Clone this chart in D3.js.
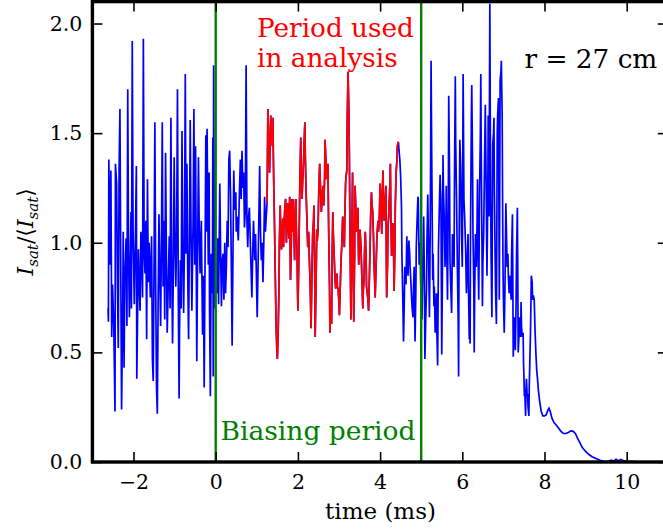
<!DOCTYPE html>
<html><head><meta charset="utf-8">
<script src="https://cdn.jsdelivr.net/npm/d3@7"></script>
<style>body{margin:0;background:#fff}svg{display:block}text{font-family:"DejaVu Serif",serif}</style>
</head><body><svg id="chart" width="663" height="531"></svg>
<script>
// ---- data (time in ms, I_sat normalised) ----
const preBiasTime = [
-2.62,-2.61,-2.60,-2.57,-2.55,-2.53,-2.51,-2.48,-2.45,-2.44,
-2.41,-2.39,-2.37,-2.35,-2.33,-2.31,-2.29,-2.26,-2.25,-2.23,
-2.21,-2.18,-2.16,-2.14,-2.12,-2.10,-2.08,-2.06,-2.05,-2.03,
-2.01,-1.98,-1.96,-1.93,-1.92,-1.88,-1.86,-1.84,-1.82,-1.80,
-1.78,-1.76,-1.74,-1.72,-1.70,-1.68,-1.66,-1.64,-1.62,-1.59,
-1.56,-1.54,-1.52,-1.50,-1.48,-1.46,-1.44,-1.42,-1.40,-1.38,
-1.36,-1.34,-1.32,-1.30,-1.28,-1.26,-1.24,-1.22,-1.20,-1.18,
-1.15,-1.13,-1.11,-1.09,-1.07,-1.05,-1.03,-1.01,-0.99,-0.97,
-0.95,-0.93,-0.91,-0.89,-0.88,-0.86,-0.84,-0.82,-0.80,-0.78,
-0.76,-0.74,-0.72,-0.70,-0.68,-0.66,-0.64,-0.62,-0.60,-0.58,
-0.55,-0.53,-0.51,-0.49,-0.47,-0.46,-0.44,-0.42,-0.40,-0.38,
-0.35,-0.32,-0.30,-0.28,-0.26,-0.24,-0.23,-0.21,-0.20,-0.18,
-0.16,-0.15,-0.13,-0.11,-0.08,-0.07,-0.06,-0.05,-0.03,-0.02];
const preBiasValue = [
0.70,0.64,1.38,0.90,1.33,0.57,0.81,0.62,0.23,1.36,
1.27,0.80,0.52,1.34,1.61,0.90,0.24,0.75,1.05,0.43,
0.85,1.02,0.62,1.70,0.95,0.66,0.90,1.14,0.70,1.92,
1.05,0.72,0.95,1.35,0.38,0.97,0.80,0.69,1.05,0.94,
0.75,1.93,0.95,0.86,1.10,0.56,1.29,0.82,1.00,0.75,
1.03,0.47,0.37,0.90,1.55,0.80,0.34,0.22,0.75,1.13,
0.85,0.62,1.00,1.55,0.80,1.10,0.65,1.41,0.95,0.59,
0.85,1.03,0.70,1.57,0.90,0.54,0.88,1.39,1.00,0.80,
1.05,1.70,0.75,0.29,0.60,0.92,0.70,1.51,0.95,0.68,
1.00,1.77,0.95,1.36,0.85,0.56,1.00,1.56,1.05,0.69,
1.10,1.61,0.90,1.44,0.80,0.46,0.95,1.39,1.05,0.86,
1.10,0.58,0.85,0.34,0.90,1.49,1.05,1.52,1.29,0.90,
1.32,0.70,0.30,0.95,0.77,1.48,0.39,1.81,0.70,1.05];

const earlyBiasTime = [
0.00,0.03,0.05,0.07,0.10,0.12,0.14,0.16,0.18,0.20,
0.22,0.24,0.26,0.28,0.30,0.32,0.34,0.36,0.38,0.40,
0.42,0.44,0.46,0.49,0.50,0.52,0.55,0.58,0.60,0.62,
0.64,0.66,0.68,0.70,0.72,0.74,0.76,0.78,0.80,0.82,
0.85,0.88,0.90,0.92,0.95,0.97,0.99,1.01,1.04,1.07,
1.09,1.11,1.13,1.15,1.17,1.19,1.21,1.23,1.25];
const earlyBiasValue = [
0.85,0.77,1.02,0.72,1.27,0.95,0.71,0.92,0.95,0.74,
1.00,0.77,0.89,1.10,0.98,1.38,1.42,1.23,0.90,0.53,
0.95,1.33,1.15,1.23,1.05,1.12,1.01,1.25,1.38,1.20,
1.42,1.25,1.32,1.07,1.15,1.81,1.10,0.98,1.12,1.16,
0.95,0.75,0.95,1.10,0.92,1.04,0.85,0.66,1.00,1.35,
1.05,0.92,1.00,0.82,1.00,1.21,1.05,1.12,1.18];

const analysisTime = [
1.27,1.29,1.31,1.34,1.36,1.38,1.39,1.41,1.43,1.45,
1.47,1.49,1.50,1.52,1.54,1.55,1.57,1.58,1.60,1.62,
1.63,1.65,1.66,1.68,1.70,1.72,1.73,1.75,1.76,1.78,
1.80,1.81,1.82,1.84,1.85,1.87,1.89,1.90,1.92,1.93,
1.95,1.96,1.98,1.99,2.00,2.02,2.04,2.05,2.07,2.08,
2.10,2.12,2.14,2.15,2.17,2.18,2.20,2.22,2.24,2.26,
2.28,2.30,2.32,2.34,2.36,2.38,2.39,2.41,2.42,2.44,
2.46,2.47,2.49,2.51,2.53,2.55,2.57,2.59,2.61,2.62,
2.63,2.65,2.66,2.68,2.69,2.71,2.73,2.74,2.75,2.77,
2.78,2.80,2.82,2.83,2.85,2.86,2.88,2.90,2.92,2.93,
2.95,2.96,2.98,3.00,3.01,3.03,3.05,3.07,3.09,3.11,
3.13,3.14,3.16,3.17,3.19,3.20,3.22,3.24,3.25,3.27,
3.29,3.31,3.33,3.34,3.36,3.38,3.39,3.41,3.42,3.44,
3.46,3.47,3.48,3.50,3.51,3.53,3.54,3.56,3.58,3.59,
3.61,3.62,3.64,3.66,3.67,3.70,3.72,3.74,3.76,3.77,
3.79,3.80,3.82,3.84,3.85,3.87,3.88,3.90,3.92,3.93,
3.95,3.96,3.98,3.99,4.00,4.02,4.04,4.05,4.07,4.08,
4.10,4.12,4.14,4.15,4.16,4.18,4.19,4.21,4.22,4.24,
4.25,4.26,4.28,4.30,4.31,4.33,4.34,4.36,4.37,4.38,
4.39,4.41,4.42,4.44,4.45];
const analysisValue = [
1.61,1.45,1.32,1.58,1.50,1.44,1.57,1.30,1.09,0.85,
0.62,0.50,0.47,0.60,0.80,1.00,1.17,1.05,0.97,1.05,
1.11,0.98,1.07,1.15,1.20,1.00,1.07,1.18,1.12,1.02,
1.21,1.00,0.83,1.00,1.20,1.05,1.20,1.08,0.92,1.05,
1.20,1.08,0.95,0.80,0.69,0.90,1.17,1.30,1.48,1.30,
1.20,1.30,1.38,1.45,1.55,1.40,1.23,1.10,0.98,1.05,
0.92,0.80,0.61,0.85,1.04,1.10,1.17,0.85,0.57,0.80,
1.06,1.01,1.06,1.25,1.36,1.25,1.14,1.20,1.26,1.20,
1.17,1.30,1.47,1.38,1.29,1.33,1.36,1.20,1.04,0.80,
0.59,0.75,0.63,0.90,1.14,1.05,0.95,0.85,0.79,0.82,
0.86,0.80,0.79,0.72,0.67,0.80,0.92,1.00,1.12,1.05,
0.98,1.10,1.27,1.30,1.33,1.55,1.78,1.60,1.44,1.00,
0.65,1.00,1.32,0.95,0.64,0.95,1.26,1.15,1.05,1.10,
1.16,1.00,0.90,1.00,1.06,1.00,0.95,0.82,0.70,0.78,
0.83,0.95,1.05,0.92,0.80,0.75,0.69,0.85,1.01,1.12,
1.23,1.18,1.14,1.02,0.92,0.82,0.75,0.88,1.01,1.05,
1.10,1.05,1.10,1.18,1.27,1.15,1.04,1.20,1.33,1.20,
1.10,1.18,1.26,1.00,0.75,0.90,1.07,1.12,1.18,1.27,
1.36,1.15,0.94,1.00,1.09,0.95,0.78,0.98,1.17,1.25,
1.32,1.38,1.44,1.46,1.45];

const lateTime = [
4.46,4.48,4.50,4.52,4.53,4.55,4.57,4.59,4.60,4.62,
4.63,4.64,4.65,4.66,4.68,4.69,4.70,4.72,4.73,4.75,
4.76,4.78,4.80,4.81,4.83,4.84,4.85,4.87,4.88,4.90,
4.92,4.93,4.95,4.97,4.99,5.02,5.04,5.06,5.08,5.09,
5.11,5.13,5.14,5.16,5.18,5.20,5.21,5.22,5.23,5.24,
5.26,5.28,5.29,5.31,5.32,5.34,5.36,5.37,5.38,5.40,
5.41,5.42,5.44,5.46,5.47,5.48,5.49,5.50,5.52,5.53,
5.54,5.56,5.57,5.58,5.60,5.61,5.62,5.64,5.66,5.67,
5.69,5.70,5.72,5.74,5.75,5.76,5.78,5.80,5.81,5.83,
5.84,5.86,5.87,5.88,5.90,5.91,5.92,5.94,5.96,5.97,
5.98,6.00,6.01,6.02,6.03,6.04,6.06,6.08,6.09,6.10,
6.12,6.14,6.15,6.17,6.18,6.19,6.20,6.22,6.23,6.25,
6.26,6.28,6.29,6.30,6.32,6.33,6.34,6.36,6.37,6.38,
6.40,6.41,6.42,6.44,6.45,6.46,6.47,6.48,6.49,6.50,
6.52,6.54,6.56,6.57,6.58,6.59,6.60,6.62,6.63,6.64,
6.65,6.66,6.67,6.68,6.69,6.70,6.72,6.73,6.74,6.76,
6.77,6.78,6.80,6.81,6.83,6.84,6.85,6.86,6.88,6.89,
6.90,6.91,6.92,6.94,6.95,6.96,6.97,6.98,6.99,7.00,
7.02,7.03,7.04,7.05,7.06,7.08,7.09,7.10,7.11,7.12,
7.14,7.15,7.17,7.18,7.19,7.20,7.22,7.23,7.24,7.25,
7.26,7.28,7.29,7.30,7.31,7.32,7.34,7.35,7.36,7.38,
7.39,7.40,7.42,7.43,7.44,7.46,7.48,7.49,7.50,7.51,
7.52,7.54,7.55,7.56,7.58,7.59,7.60,7.62,7.63,7.66,
7.68,7.70,7.71,7.73,7.75,7.77,7.79,7.81,7.83,7.85,
7.88];
const lateValue = [
1.42,1.38,1.30,1.17,0.95,0.77,0.55,0.75,0.89,0.85,
0.81,0.92,1.03,0.92,0.85,0.95,1.01,0.95,0.89,0.82,
0.77,0.70,0.66,0.78,0.89,0.70,0.55,0.78,0.98,1.10,
1.21,1.20,0.90,1.00,0.80,0.65,0.90,1.12,0.80,0.47,
0.65,0.79,1.00,1.22,0.95,0.66,0.85,1.09,1.40,1.83,
1.30,0.83,0.95,0.71,0.80,0.59,0.68,0.77,0.60,0.44,
0.70,0.97,1.15,1.31,1.25,1.20,0.85,0.49,0.95,1.40,
1.25,1.12,1.00,0.89,1.05,1.26,1.00,0.74,1.20,1.67,
1.30,0.92,0.80,0.68,0.85,1.04,0.95,0.89,1.30,1.76,
1.45,1.20,1.05,0.89,0.65,0.39,0.90,1.47,1.35,1.24,
1.05,0.89,1.30,1.77,1.50,1.20,1.10,0.98,0.88,0.77,
0.90,1.04,0.80,0.56,0.62,0.54,1.05,1.56,1.72,1.35,
1.04,0.80,0.50,0.75,1.04,0.95,0.89,1.10,1.29,1.00,
0.74,0.98,1.23,1.50,1.77,1.45,1.20,0.95,0.71,0.90,
1.04,1.35,1.63,1.45,1.27,1.05,0.85,1.20,1.58,1.35,
1.12,1.60,2.09,1.60,1.20,0.95,0.66,1.05,1.45,1.50,
1.57,1.25,0.92,0.78,0.63,1.05,1.50,1.58,1.66,1.20,
0.74,1.20,1.74,1.78,1.83,1.70,1.58,1.20,0.89,0.75,
0.59,0.70,0.82,1.00,1.18,1.00,0.89,0.92,0.95,0.85,
0.77,0.85,0.80,0.77,0.74,0.95,1.13,0.80,0.48,0.58,
0.66,0.58,0.51,0.62,0.74,0.95,1.16,0.85,0.50,0.58,
0.66,0.62,0.57,0.73,0.62,0.57,0.59,0.45,0.39,0.30,
0.33,0.21,0.33,0.38,0.30,0.31,0.25,0.21,0.35,0.60,
0.85,0.82,0.74,0.76,0.74,0.60,0.50,0.42,0.38,0.33,
0.28];

const decayTime = [
7.92,7.96,8.00,8.04,8.08,8.11,8.14,8.18,8.23,8.28,
8.34,8.40,8.46,8.52,8.58,8.64,8.70,8.75,8.80,8.86,
8.92,9.00,9.08,9.16,9.25,9.35,9.45,9.55,9.62,9.68,
9.74,9.80,9.86,9.92,10.00,10.10,10.22];
const decayValue = [
0.23,0.21,0.21,0.215,0.235,0.245,0.23,0.20,0.18,0.17,
0.155,0.14,0.13,0.13,0.135,0.142,0.14,0.13,0.11,0.088,
0.066,0.048,0.034,0.024,0.016,0.008,0.003,0.002,0.008,0.004,
0.012,0.006,0.012,0.006,0.002,0.003,0.002];

const xTicks = [-2, 0, 2, 4, 6, 8, 10];
const yTicks = [0, 0.5, 1.0, 1.5, 2.0];
const biasingPeriod = [0, 5];
const analysisPeriod = [1.25, 4.45];
const xLabel = "time (ms)";
const radiusLabel = "r = 27 cm";

// ---- build ----
const zip = (ts, vs) => ts.slice(0, Math.min(ts.length, vs.length)).map((t, i) => ({t, v: vs[i]}));
const allPoints = [].concat(
  zip(preBiasTime, preBiasValue), zip(earlyBiasTime, earlyBiasValue),
  zip(analysisTime, analysisValue), zip(lateTime, lateValue), zip(decayTime, decayValue));
const redPoints = allPoints.filter(d => d.t >= analysisPeriod[0] && d.t <= analysisPeriod[1]);

const svg = d3.select("#chart");
const L = 92.4, R = 667.8, T = 1.6, B = 462;
const x = d3.scaleLinear().domain([-3, 11]).range([L, R]);
const y = d3.scaleLinear().domain([0, 2.1]).range([B, T]);

svg.append("defs").append("clipPath").attr("id", "clip")
  .append("rect").attr("x", L).attr("y", T).attr("width", R - L).attr("height", B - T);

const plot = svg.append("g").attr("clip-path", "url(#clip)");
const line = d3.line().x(d => x(d.t)).y(d => y(d.v));
plot.append("path").datum(allPoints).attr("d", line)
  .attr("fill", "none").attr("stroke", "#0000ff").attr("stroke-width", 1.7);
plot.append("path").datum(redPoints).attr("d", line)
  .attr("fill", "none").attr("stroke", "#ff0000").attr("stroke-width", 1.7);
plot.selectAll("line.bias").data(biasingPeriod).join("line").attr("class", "bias")
  .attr("x1", d => x(d)).attr("x2", d => x(d)).attr("y1", y(0)).attr("y2", y(2.1))
  .attr("stroke", "#008000").attr("stroke-width", 2.4);

// axes with inward ticks
const tickLen = 10;
const gB = svg.append("g").attr("transform", `translate(0,${B})`)
  .call(d3.axisBottom(x).tickValues(xTicks).tickSizeInner(-tickLen).tickSizeOuter(0).tickPadding(12)
    .tickFormat(d => d < 0 ? "\u2212" + Math.abs(d) : String(d)));
const gT = svg.append("g").attr("transform", `translate(0,${T})`)
  .call(d3.axisTop(x).tickValues(xTicks).tickSizeInner(-tickLen).tickSizeOuter(0).tickFormat(""));
const gL = svg.append("g").attr("transform", `translate(${L},0)`)
  .call(d3.axisLeft(y).tickValues(yTicks).tickSizeInner(-tickLen).tickSizeOuter(0).tickPadding(10)
    .tickFormat(d3.format(".1f")));
const gR = svg.append("g").attr("transform", `translate(${R},0)`)
  .call(d3.axisRight(y).tickValues(yTicks).tickSizeInner(-tickLen).tickSizeOuter(0).tickFormat(""));
[gB, gT, gL, gR].forEach(g => {
  g.select(".domain").remove();
  g.selectAll(".tick line").attr("stroke", "#000").attr("stroke-width", 1.6);
  g.selectAll(".tick text").attr("fill", "#000").style("font-family", '"DejaVu Serif", serif').style("font-size", "20.5px");
});

svg.append("rect").attr("x", L).attr("y", T).attr("width", R - L).attr("height", B - T)
  .attr("fill", "none").attr("stroke", "#000").attr("stroke-width", 3.4);

// labels
svg.append("text").attr("x", 380.5).attr("y", 519).attr("text-anchor", "middle")
  .style("font-size", "23px").attr("fill", "#000").text(xLabel);

const yl = svg.append("text").attr("transform", `translate(33,${(T + B) / 2}) rotate(-90)`)
  .attr("text-anchor", "middle").style("font-size", "22px").attr("fill", "#000");
yl.append("tspan").style("font-style", "italic").text("I");
yl.append("tspan").style("font-style", "italic").style("font-size", "15px").attr("dy", 5).text("sat");
yl.append("tspan").attr("dy", -5).text("/\u27E8");
yl.append("tspan").style("font-style", "italic").text("I");
yl.append("tspan").style("font-style", "italic").style("font-size", "15px").attr("dy", 5).text("sat");
yl.append("tspan").attr("dy", -5).text("\u27E9");

svg.append("text").attr("x", 257).attr("y", 37).style("font-size", "26.3px").attr("fill", "#ff0000").text("Period used");
svg.append("text").attr("x", 257).attr("y", 67).style("font-size", "26.3px").attr("fill", "#ff0000").text("in analysis");
svg.append("text").attr("x", 524.5).attr("y", 68).style("font-size", "26.3px").attr("fill", "#000").text(radiusLabel);
svg.append("text").attr("x", 220.5).attr("y", 440).style("font-size", "26.5px").attr("fill", "#008000").text("Biasing period");
</script></body></html>
